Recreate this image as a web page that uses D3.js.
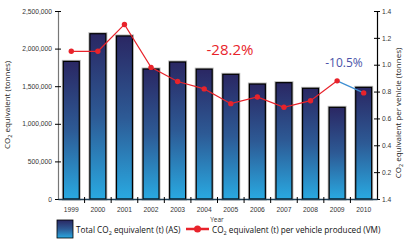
<!DOCTYPE html>
<html lang="en">
  <head>
    <meta charset="utf-8">
    <title></title>
    <style>
      body { margin: 0; background: #fff; }
      svg { font-family: "Open Sans", sans-serif; }
      .tick text { fill: #333; font-size: 6.7px; }
    </style>
  </head>
  <body>
    <svg class="chart"></svg>
    <script src="https://d3js.org/d3.v7.min.js"></script>
    <script>
      const years = ["1999","2000","2001","2002","2003","2004","2005","2006","2007","2008","2009","2010"];
      const totalCO2 = [1830000, 2198000, 2168000, 1729000, 1822000, 1727000, 1658000, 1529000, 1547000, 1472000, 1219000, 1485000];
      const perVehicle = [1.10, 1.10, 1.30, 0.98, 0.875, 0.82, 0.71, 0.76, 0.683, 0.732, 0.88, 0.79];
      const leftTicks = [0, 500000, 1000000, 1500000, 2000000, 2500000];
      const rightTicks = [0, 0.2, 0.4, 0.6, 0.8, 1.0, 1.2, 1.4];
      const rightTickLabels = ["1.4", "0.2", "0.4", "0.6", "0.8", "1.0", "1.2", "1.4"];

      const svg = d3.select(".chart").attr("width", 405).attr("height", 240);

      const x = d3.scaleBand().domain(years).range([58, 377]).paddingInner(0.4).paddingOuter(0.2);
      const yL = d3.scaleLinear().domain([0, 2500000]).range([199, 11]);
      const yR = d3.scaleLinear().domain([0, 1.4]).range([199, 11]);

      const defs = svg.append("defs");
      const grad = defs.append("linearGradient").attr("id", "barGrad")
        .attr("x1", 0).attr("y1", 0).attr("x2", 0).attr("y2", 1);
      grad.append("stop").attr("offset", "0%").attr("stop-color", "#2a2763");
      grad.append("stop").attr("offset", "50%").attr("stop-color", "#2d5a95");
      grad.append("stop").attr("offset", "100%").attr("stop-color", "#29a9e1");

      // bars: grey halo then gradient bar with black edge
      svg.append("g").selectAll("rect").data(totalCO2).enter()
        .append("rect")
        .attr("x", (d,i) => x(years[i]))
        .attr("y", d => yL(d))
        .attr("width", x.bandwidth())
        .attr("height", d => 199 - yL(d))
        .attr("fill", "none").attr("stroke", "#b8b8b8").attr("stroke-width", 3);
      svg.append("g").selectAll("rect").data(totalCO2).enter()
        .append("rect")
        .attr("x", (d,i) => x(years[i]))
        .attr("y", d => yL(d))
        .attr("width", x.bandwidth())
        .attr("height", d => 199 - yL(d))
        .attr("fill", "url(#barGrad)").attr("stroke", "#000").attr("stroke-width", 1.2);

      // left axis
      const leftAxis = svg.append("g").attr("transform", "translate(58,0)")
        .call(d3.axisLeft(yL).tickValues(leftTicks).tickSize(0).tickPadding(6).tickFormat(d3.format(",")));
      leftAxis.select(".domain").attr("stroke", "#777").attr("stroke-width", 1.2);
      leftAxis.selectAll(".tick line").attr("x1", -3).attr("x2", 3).attr("stroke", "#000");

      // right axis
      const rightAxis = svg.append("g").attr("transform", "translate(377,0)")
        .call(d3.axisRight(yR).tickValues(rightTicks).tickSize(0).tickPadding(5)
          .tickFormat((d,i) => rightTickLabels[i]));
      rightAxis.select(".domain").attr("stroke", "#000").attr("stroke-width", 1.2);
      rightAxis.selectAll(".tick line").attr("x1", -3).attr("x2", 3).attr("stroke", "#000");

      // bottom axis
      const bottomAxis = svg.append("g").attr("transform", "translate(0,199)")
        .call(d3.axisBottom(x).tickSize(0).tickPadding(8));
      bottomAxis.select(".domain").attr("stroke", "#1f3f55").attr("stroke-width", 1.5);
      const step = x.step();
      svg.append("g").selectAll("line").data(years.slice(0, -1)).enter()
        .append("line")
        .attr("x1", d => x(d) + x.bandwidth() + (step - x.bandwidth()) / 2)
        .attr("x2", d => x(d) + x.bandwidth() + (step - x.bandwidth()) / 2)
        .attr("y1", 197).attr("y2", 203)
        .attr("stroke", "#000").attr("stroke-width", 1);

      // line series
      const cx = i => x(years[i]) + x.bandwidth() / 2;
      const redLine = d3.line().x((d,i) => cx(i)).y(d => yR(d));
      svg.append("path").datum(perVehicle.slice(0, 11))
        .attr("d", redLine).attr("fill", "none").attr("stroke", "#e8232b").attr("stroke-width", 1.2);
      svg.append("path").datum(perVehicle.slice(10))
        .attr("d", d3.line().x((d,i) => cx(i + 10)).y(d => yR(d)))
        .attr("fill", "none").attr("stroke", "#3e8fd3").attr("stroke-width", 1.2);
      svg.append("g").selectAll("circle").data(perVehicle).enter()
        .append("circle")
        .attr("cx", (d,i) => cx(i)).attr("cy", d => yR(d)).attr("r", 2.7)
        .attr("fill", "#e8232b");

      // annotations
      svg.append("text").attr("x", 230).attr("y", 55).attr("text-anchor", "middle")
        .attr("font-size", 15).attr("fill", "#e8232b").text("-28.2%");
      svg.append("text").attr("x", 344).attr("y", 67).attr("text-anchor", "middle")
        .attr("font-size", 12).attr("fill", "#4a52a8").text("-10.5%");

      // axis titles
      svg.append("text").attr("transform", "translate(10,105) rotate(-90)")
        .attr("text-anchor", "middle").attr("font-size", 8).attr("fill", "#222")
        .html("CO<tspan font-size='5.5' dy='2'>2</tspan><tspan dy='-2'> equivalent (tonnes)</tspan>");
      svg.append("text").attr("transform", "translate(401,113) rotate(-90)")
        .attr("text-anchor", "middle").attr("font-size", 8).attr("fill", "#222")
        .html("CO<tspan font-size='5.5' dy='2'>2</tspan><tspan dy='-2'> equivalent per vehicle (tonnes)</tspan>");
      svg.append("text").attr("x", 217).attr("y", 222).attr("text-anchor", "middle")
        .attr("font-size", 6.5).attr("fill", "#333").text("Year");

      // legend
      const legend = svg.append("g").attr("id", "legend");
      legend.append("rect").attr("x", 57).attr("y", 220).attr("width", 16).attr("height", 18)
        .attr("fill", "url(#barGrad)").attr("stroke", "#000").attr("stroke-width", 0.8);
      legend.append("text").attr("x", 76).attr("y", 233).attr("font-size", 8.2).attr("fill", "#111")
        .html("Total CO<tspan font-size='5.5' dy='1.5'>2</tspan><tspan dy='-1.5'> equivalent (t) (AS)</tspan>");
      legend.append("line").attr("x1", 186).attr("x2", 209).attr("y1", 229).attr("y2", 229)
        .attr("stroke", "#e8232b").attr("stroke-width", 2.5);
      legend.append("circle").attr("cx", 197.5).attr("cy", 229).attr("r", 3.5).attr("fill", "#e8232b");
      legend.append("text").attr("x", 212).attr("y", 233).attr("font-size", 8.2).attr("fill", "#111")
        .html("CO<tspan font-size='5.5' dy='1.5'>2</tspan><tspan dy='-1.5'> equivalent (t) per vehicle produced (VM)</tspan>");
    </script>
  </body>
</html>
